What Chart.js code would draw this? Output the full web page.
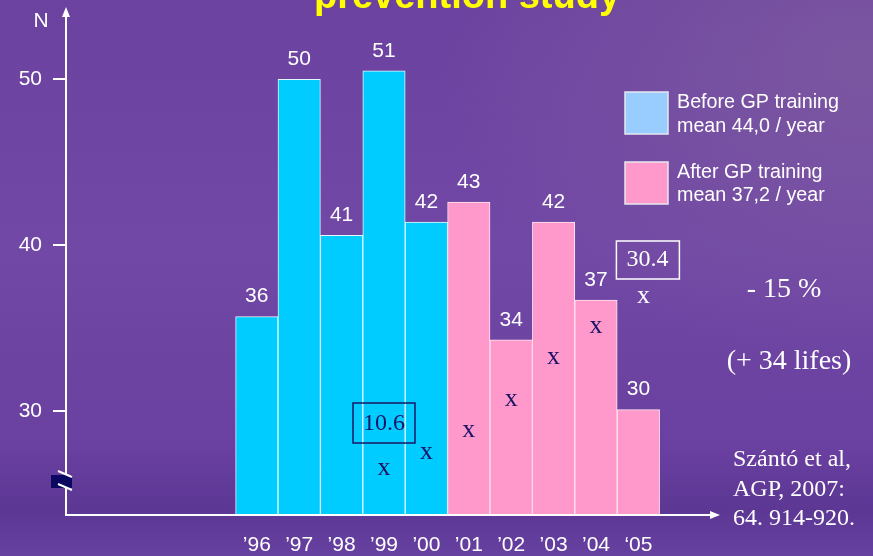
<!DOCTYPE html>
<html>
<head>
<meta charset="utf-8">
<script src="https://cdn.jsdelivr.net/npm/chart.js@4"></script>
<style>
  html, body { margin: 0; padding: 0; }
  body {
    width: 873px; height: 556px; overflow: hidden;
    background:
      radial-gradient(ellipse 420px 300px at 860px 60px, rgba(140,110,160,0.45), rgba(140,110,160,0) 100%),
      linear-gradient(to bottom, #6c42a0 0%, #7148a5 45%, #6a40a0 80%, #5c3794 92%, #6741a0 100%);
  }
  #wrap { position: relative; width: 873px; height: 556px; }
</style>
</head>
<body>
<div id="wrap"><canvas id="myChart" width="873" height="556"></canvas></div>
<script>
const years = ["\u201996", "\u201997", "\u201998", "\u201999", "\u201900", "\u201901", "\u201902", "\u201903", "\u201904", "\u201805"];
const beforeN = [35.7, 50.0, 40.6, 50.5, 41.4, null, null, null, null, null];
const afterN = [null, null, null, null, null, 42.6, 34.3, 41.4, 36.7, 30.1];
const barLabels = ["36", "50", "41", "51", "42", "43", "34", "42", "37", "30"];
const trendX = [null, null, null, 26.5, 27.5, 28.8, 30.7, 33.2, 35.1, 36.9];
const yTicks = [30, 40, 50];

// empty slots so the bars sit right of the axis like on the slide
const padLeft = ["", "", "", ""];
const padRight = [""];
const labels = [...padLeft, ...years, ...padRight];
const pad = (arr) => [...padLeft.map(() => null), ...arr, ...padRight.map(() => null)];

const navy = "#1b1466";
const chart = document.getElementById("myChart");

const overlay = {
  id: "overlay",
  afterDatasetsDraw(c) {
    const ctx = c.ctx;
    const area = c.chartArea;
    ctx.save();

    // axes
    ctx.strokeStyle = "#ffffff";
    ctx.fillStyle = "#ffffff";
    ctx.lineWidth = 2;
    ctx.beginPath();
    ctx.moveTo(area.left, area.bottom);
    ctx.lineTo(area.left, 14);
    ctx.moveTo(area.left - 1, area.bottom);
    ctx.lineTo(714, area.bottom);
    ctx.stroke();
    ctx.beginPath();
    ctx.moveTo(area.left, 7);
    ctx.lineTo(area.left - 4, 17);
    ctx.lineTo(area.left + 4, 17);
    ctx.closePath();
    ctx.fill();
    ctx.beginPath();
    ctx.moveTo(720, area.bottom);
    ctx.lineTo(710, area.bottom - 4);
    ctx.lineTo(710, area.bottom + 4);
    ctx.closePath();
    ctx.fill();

    // axis break
    ctx.fillStyle = "#0a0860";
    ctx.fillRect(51, 475, 21, 13);
    ctx.beginPath();
    ctx.moveTo(58, 471);
    ctx.lineTo(72, 477);
    ctx.moveTo(58, 484);
    ctx.lineTo(72, 490);
    ctx.stroke();

    // value labels above bars
    ctx.fillStyle = "#ffffff";
    ctx.font = "21px Arial, 'Liberation Sans', sans-serif";
    ctx.textAlign = "center";
    ctx.textBaseline = "middle";
    [0, 1].forEach((di) => {
      c.getDatasetMeta(di).data.forEach((el, i) => {
        const v = c.data.datasets[di].data[i];
        if (v === null) return;
        const idx = i - padLeft.length;
        ctx.fillText(barLabels[idx], el.x, el.y - 20);
      });
    });

    // the x marks
    const pts = c.getDatasetMeta(2).data;
    ctx.font = "26px 'Times New Roman', 'Liberation Serif', serif";
    ctx.textBaseline = "alphabetic";
    pts.forEach((el, i) => {
      if (c.data.datasets[2].data[i] === null) return;
      const last = i === labels.length - 2;
      ctx.fillStyle = last ? "#ffffff" : navy;
      ctx.fillText("x", el.x + (last ? 5 : 0), el.y + 6);
    });

    // boxed values
    const p99 = pts[padLeft.length + 3];
    const p05 = pts[padLeft.length + 9];
    ctx.lineWidth = 1.5;
    ctx.font = "24px 'Times New Roman', 'Liberation Serif', serif";
    ctx.textBaseline = "middle";
    ctx.strokeStyle = navy;
    ctx.fillStyle = navy;
    ctx.strokeRect(p99.x - 31, 403, 62, 40);
    ctx.fillText("10.6", p99.x, 424);
    ctx.strokeStyle = "#ffffff";
    ctx.fillStyle = "#ffffff";
    ctx.strokeRect(p05.x - 22, 241, 63, 38);
    ctx.fillText("30.4", p05.x + 9, 260);
    ctx.restore();
  },
  afterDraw(c) {
    const ctx = c.ctx;
    ctx.save();
    // title (cut off at the top)
    ctx.fillStyle = "#ffff00";
    ctx.font = "bold 38px Arial, 'Liberation Sans', sans-serif";
    ctx.textAlign = "center";
    ctx.textBaseline = "alphabetic";
    ctx.fillText("prevention study", 467, 8);

    // N label
    ctx.fillStyle = "#ffffff";
    ctx.font = "21px Arial, 'Liberation Sans', sans-serif";
    ctx.textBaseline = "middle";
    ctx.fillText("N", 41, 21);

    // legend
    ctx.lineWidth = 1.5;
    ctx.strokeStyle = "#e8e8f0";
    ctx.fillStyle = "#99ccff";
    ctx.fillRect(625, 92, 43, 42);
    ctx.strokeRect(625, 92, 43, 42);
    ctx.fillStyle = "#ff99cc";
    ctx.fillRect(625, 162, 43, 42);
    ctx.strokeRect(625, 162, 43, 42);
    ctx.fillStyle = "#ffffff";
    ctx.font = "19.7px Arial, 'Liberation Sans', sans-serif";
    ctx.textAlign = "left";
    ctx.fillText("Before GP training", 677, 103);
    ctx.fillText("mean 44,0 / year", 677, 127);
    ctx.fillText("After GP training", 677, 173);
    ctx.fillText("mean 37,2 / year", 677, 196);

    // right side notes
    ctx.font = "28px 'Times New Roman', 'Liberation Serif', serif";
    ctx.textAlign = "center";
    ctx.fillText("- 15 %", 784, 290);
    ctx.fillText("(+ 34 lifes)", 789, 362);
    ctx.font = "24px 'Times New Roman', 'Liberation Serif', serif";
    ctx.textAlign = "left";
    ctx.fillText("Sz\u00e1nt\u00f3 et al,", 733, 460);
    ctx.fillText("AGP, 2007:", 733, 490);
    ctx.fillText("64. 914-920.", 733, 519);
    ctx.restore();
  },
};

new Chart(chart, {
  type: "bar",
  data: {
    labels: labels,
    datasets: [
      {
        label: "Before GP training",
        data: pad(beforeN),
        backgroundColor: "#00ccff",
        borderColor: "#e6f8ff",
        borderWidth: 1,
        grouped: false,
        categoryPercentage: 1,
        barPercentage: 1,
      },
      {
        label: "After GP training",
        data: pad(afterN),
        backgroundColor: "#ff99cc",
        borderColor: "#ffe6f2",
        borderWidth: 1,
        grouped: false,
        categoryPercentage: 1,
        barPercentage: 1,
      },
      {
        type: "line",
        label: "trend",
        data: pad(trendX),
        showLine: false,
        pointRadius: 0,
      },
    ],
  },
  options: {
    responsive: false,
    animation: false,
    layout: { padding: { left: 0, right: 171, top: 0, bottom: 0 } },
    plugins: { legend: { display: false }, tooltip: { enabled: false } },
    scales: {
      x: {
        grid: { display: false, drawTicks: false },
        border: { display: false },
        ticks: {
          color: "#ffffff",
          font: { family: "Arial, 'Liberation Sans', sans-serif", size: 21 },
          padding: 18,
          autoSkip: false,
          maxRotation: 0,
        },
        afterFit: (s) => { s.height = 41; },
      },
      y: {
        min: 23.75,
        max: 53.35,
        afterBuildTicks: (s) => { s.ticks = yTicks.map((v) => ({ value: v })); },
        grid: { drawOnChartArea: false, color: "#ffffff", tickColor: "#ffffff", tickLength: 13, lineWidth: 2 },
        border: { display: false },
        ticks: {
          color: "#ffffff",
          font: { family: "Arial, 'Liberation Sans', sans-serif", size: 21 },
          padding: 11,
        },
        afterFit: (s) => { s.width = 66; },
      },
    },
  },
  plugins: [overlay],
});
</script>
</body>
</html>
